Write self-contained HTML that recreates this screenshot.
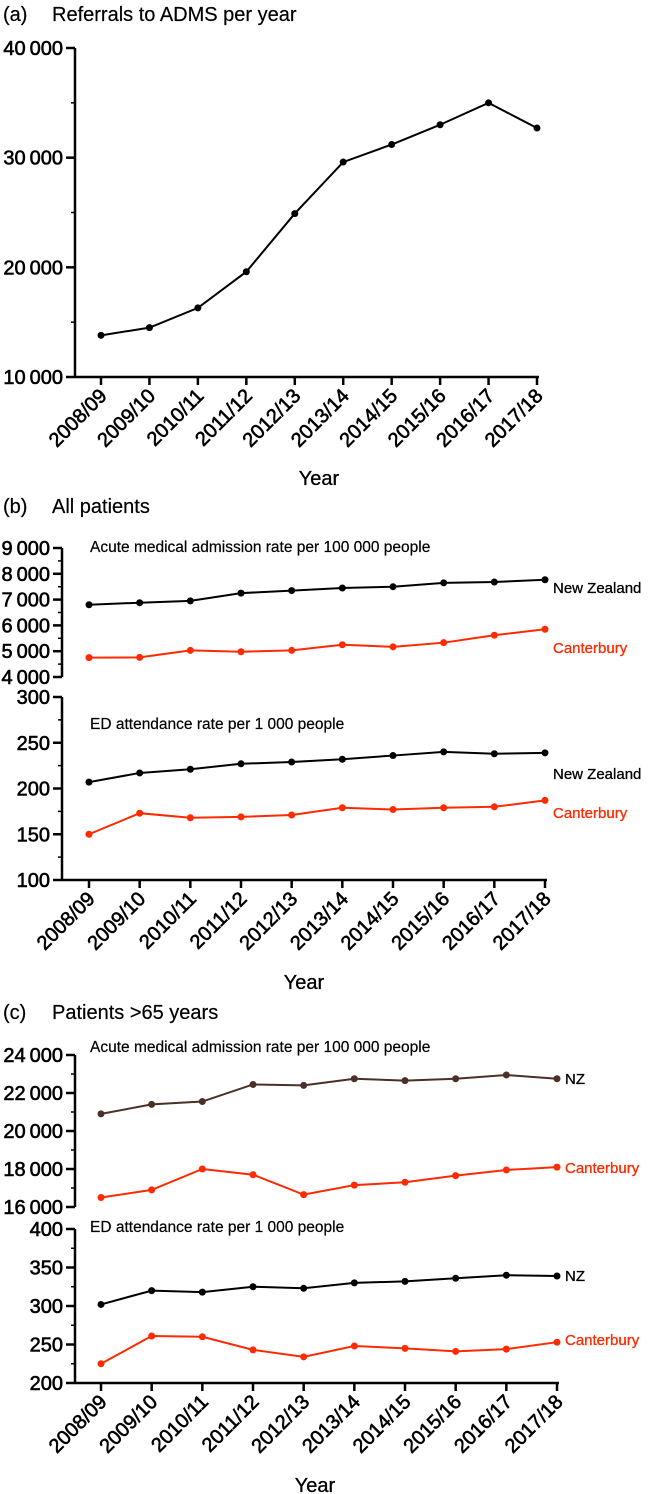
<!DOCTYPE html>
<html><head><meta charset="utf-8"><style>
body{margin:0;background:#fff}
svg{display:block;font-family:"Liberation Sans",Arial,sans-serif}
</style></head><body>
<svg id="c" width="648" height="1494" viewBox="0 0 648 1494"></svg>
<script>
const years=["2008/09","2009/10","2010/11","2011/12","2012/13","2013/14","2014/15","2015/16","2016/17","2017/18"];
const referrals=[13800,14500,16300,19600,24900,29600,31200,33000,35000,32700];
const bAdmNZ=[6800,6880,6950,7250,7350,7450,7500,7650,7680,7770];
const bAdmCant=[4750,4760,5030,4980,5030,5250,5170,5330,5620,5850];
const bEdNZ=[207,217,221,227,229,232,236,240,238,239];
const bEdCant=[150,173,168,169,171,179,177,179,180,187];
const cAdmNZ=[20900,21400,21550,22450,22400,22750,22650,22750,22950,22750];
const cAdmCant=[16500,16900,18000,17700,16650,17150,17300,17650,17950,18100];
const cEdNZ=[302,320,318,325,323,330,332,336,340,339];
const cEdCant=[225,261,260,243,234,248,245,241,244,253];
const ticksA=[10000,20000,30000,40000];
const ticksBAdm=[4000,5000,6000,7000,8000,9000];
const ticksBEd=[100,150,200,250,300];
const ticksCAdm=[16000,18000,20000,22000,24000];
const ticksCEd=[200,250,300,350,400];

const svg=document.getElementById('c');
const NS="http://www.w3.org/2000/svg";
function mk(tag,at,parent){const e=document.createElementNS(NS,tag);for(const k in at)e.setAttribute(k,at[k]);(parent||svg).appendChild(e);return e;}
function txt(s,x,y,size,anchor,fill,name,heavy){const t=mk('text',{x:x,y:y,'font-size':size,'text-anchor':anchor||'start',fill:fill||'#000'});
if(heavy){t.setAttribute('stroke',fill||'#000');t.setAttribute('stroke-width',heavy);}
t.textContent=s;


return t;}
function fmt(v){return v>=1000?Math.floor(v/1000)+"\u2009"+String(v%1000).padStart(3,'0'):String(v);}
function yScale(v0,v1,p0,p1){return v=>p0+(v-v0)*(p1-p0)/(v1-v0);}
function xScale(x0,x1){return i=>x0+i*(x1-x0)/(years.length-1);}
function yAxis(ax,y,ticks,minorStep,name){
 const g=mk('g',{});
 
 
 const lo=ticks[0],hi=ticks[ticks.length-1];
 mk('line',{x1:ax,x2:ax,y1:y(hi),y2:y(lo),stroke:'#000','stroke-width':2.5},g);
 for(let v=lo;v<=hi+1e-9;v+=minorStep)mk('line',{x1:ax-4,x2:ax,y1:y(v),y2:y(v),stroke:'#000','stroke-width':1.5},g);
 ticks.forEach(v=>{mk('line',{x1:ax-9,x2:ax,y1:y(v),y2:y(v),stroke:'#000','stroke-width':2.5},g);
  const t=txt(fmt(v),ax-12,y(v)+7,20,'end','#000','y-tick-label',0.6);g.appendChild(t);});
}
function xAxis(ax,ay,x,name){
 const g=mk('g',{});
 
 
 mk('line',{x1:ax,x2:x(years.length-1)+2,y1:ay,y2:ay,stroke:'#000','stroke-width':2.5},g);
 years.forEach((s,i)=>{mk('line',{x1:x(i),x2:x(i),y1:ay,y2:ay+8,stroke:'#000','stroke-width':2.5},g);
  const t=txt(s,0,0,20,'end','#000','x-tick-label',0.6);
  t.setAttribute('transform',`translate(${x(i)+7},${ay+20}) rotate(-45)`);g.appendChild(t);});
}
function series(vals,x,y,color,name){
 const g=mk('g',{});
 
 
 mk('polyline',{points:vals.map((v,i)=>x(i)+','+y(v)).join(' '),fill:'none',stroke:color,'stroke-width':2},g);
 vals.forEach((v,i)=>{const c=mk('circle',{cx:x(i),cy:y(v),r:3.5,fill:color},g);
  
  });
}
const RED='#ff2a00';

// Panel a
txt("(a)",3,21,20,'start','#000','panel-a-label',0.2);
txt("Referrals to ADMS per year",52,21,20,'start','#000','panel-a-title',0.2);
let xa=xScale(101,537), ya=yScale(10000,40000,377,48);
yAxis(75,ya,ticksA,5000,'panel-a-y-axis');
xAxis(75,377,xa,'panel-a-x-axis');
series(referrals,xa,ya,'#000','referrals-series');
txt("Year",319,485,20,'middle','#000','panel-a-x-title',0.3);

// Panel b
txt("(b)",3,513,20,'start','#000','panel-b-label',0.2);
txt("All patients",52,513,20,'start','#000','panel-b-title',0.2);
let xb=xScale(89,545);
let yb1=yScale(4000,9000,677,548), yb2=yScale(100,300,880,697);
yAxis(62,yb1,ticksBAdm,500,'panel-b-admission-y-axis');
yAxis(62,yb2,ticksBEd,25,'panel-b-ed-y-axis');
xAxis(62,880,xb,'panel-b-x-axis');
txt("Acute medical admission rate per 100 000 people",90,552,15.5,'start','#000','panel-b-admission-subtitle',0.2);
txt("ED attendance rate per 1 000 people",90,729,15.5,'start','#000','panel-b-ed-subtitle',0.2);
series(bAdmNZ,xb,yb1,'#000','b-admission-nz');
series(bAdmCant,xb,yb1,RED,'b-admission-canterbury');
series(bEdNZ,xb,yb2,'#000','b-ed-nz');
series(bEdCant,xb,yb2,RED,'b-ed-canterbury');
txt("New Zealand",553,593,15,'start','#000','b-admission-nz-label',0.3);
txt("Canterbury",553,653,15,'start',RED,'b-admission-canterbury-label',0.3);
txt("New Zealand",553,779,15,'start','#000','b-ed-nz-label',0.3);
txt("Canterbury",553,818,15,'start',RED,'b-ed-canterbury-label',0.3);
txt("Year",304,989,20,'middle','#000','panel-b-x-title',0.3);

// Panel c
txt("(c)",3,1019,20,'start','#000','panel-c-label',0.2);
txt("Patients >65 years",52,1019,20,'start','#000','panel-c-title',0.2);
let xc=xScale(101,557);
let yc1=yScale(16000,24000,1207,1055), yc2=yScale(200,400,1383,1229);
yAxis(75,yc1,ticksCAdm,1000,'panel-c-admission-y-axis');
yAxis(75,yc2,ticksCEd,25,'panel-c-ed-y-axis');
xAxis(75,1383,xc,'panel-c-x-axis');
txt("Acute medical admission rate per 100 000 people",90,1052,15.5,'start','#000','panel-c-admission-subtitle',0.2);
txt("ED attendance rate per 1 000 people",90,1232,15.5,'start','#000','panel-c-ed-subtitle',0.2);
series(cAdmNZ,xc,yc1,'#4a3028','c-admission-nz');
series(cAdmCant,xc,yc1,RED,'c-admission-canterbury');
series(cEdNZ,xc,yc2,'#000','c-ed-nz');
series(cEdCant,xc,yc2,RED,'c-ed-canterbury');
txt("NZ",565,1084,15,'start','#000','c-admission-nz-label',0.3);
txt("Canterbury",565,1173,15,'start',RED,'c-admission-canterbury-label',0.3);
txt("NZ",565,1281,15,'start','#000','c-ed-nz-label',0.3);
txt("Canterbury",565,1345,15,'start',RED,'c-ed-canterbury-label',0.3);
txt("Year",315,1492,20,'middle','#000','panel-c-x-title',0.3);
</script>
</body></html>
